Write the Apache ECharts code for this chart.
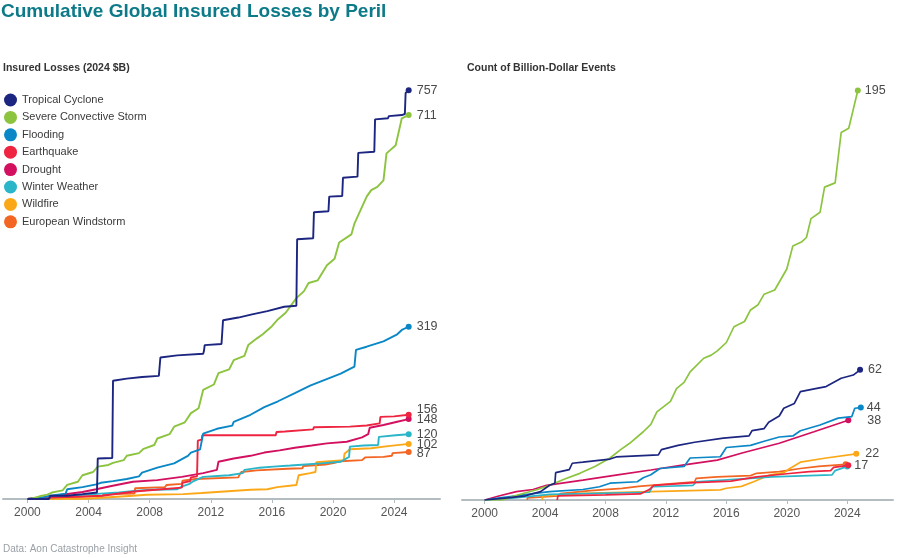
<!DOCTYPE html>
<html>
<head>
<meta charset="utf-8">
<script src="https://cdn.jsdelivr.net/npm/echarts@6/dist/echarts.min.js"></script>
<style>
html,body{margin:0;padding:0;background:#fff;}
#chart{width:900px;height:558px;}
</style>
</head>
<body>
<div id="chart"></div>
<script>
// ---------- DATA ----------
var perils = ["Tropical Cyclone","Severe Convective Storm","Flooding","Earthquake","Drought","Winter Weather","Wildfire","European Windstorm"];
var yearTicks = [2000,2004,2008,2012,2016,2020,2024];

// Cumulative insured losses (2024 $B): [year, value]
var lossTropicalCyclone = [[2000,0],[2001.4,0],[2001.5,6],[2002.6,6],[2002.7,8],[2003.6,9],[2003.7,11],[2004.55,12],[2004.6,75],[2005.55,76],[2005.6,219],[2006.5,223],[2007.5,226],[2008.6,228],[2008.7,262],[2009.8,266],[2011.5,269],[2011.55,274],[2011.6,285],[2012.7,287],[2012.8,331],[2013.8,336],[2014.7,342],[2015.7,348],[2016.8,356],[2017.6,358],[2017.65,481],[2018.7,483],[2018.75,531],[2019.7,533],[2019.75,560],[2020.6,561],[2020.65,595],[2021.6,597],[2021.65,641],[2022.7,643],[2022.75,703],[2023.6,705],[2023.65,709],[2024.5,711],[2024.7,713],[2024.75,752],[2024.95,757]];
var lossSevereConvective = [[2000,0],[2000.3,1],[2000.8,5],[2001.3,8],[2001.6,12],[2002.3,16],[2002.6,26],[2003.3,32],[2003.6,44],[2004.3,50],[2004.6,60],[2005.3,63],[2005.6,67],[2006.3,72],[2006.5,80],[2007.3,85],[2007.6,93],[2008.3,100],[2008.5,112],[2009.3,120],[2009.6,134],[2010.3,142],[2010.7,159],[2011.2,168],[2011.5,202],[2012.2,212],[2012.5,233],[2013.2,240],[2013.5,257],[2014.2,265],[2014.45,285],[2015.0,297],[2015.4,305],[2016.0,320],[2016.4,333],[2016.9,345],[2017.6,372],[2018.1,385],[2018.4,400],[2019.0,405],[2019.6,433],[2020.1,445],[2020.4,475],[2021.2,490],[2021.4,510],[2022.2,560],[2022.5,572],[2022.9,578],[2023.3,590],[2023.5,640],[2024.1,655],[2024.5,705],[2024.95,711]];
var lossFlooding = [[2000,0],[2001.0,3],[2001.5,6],[2002.5,10],[2002.6,18],[2003.6,22],[2004.5,27],[2004.8,30],[2005.6,33],[2006.5,37],[2007.3,42],[2007.5,49],[2008.5,58],[2009.6,66],[2010.5,80],[2010.7,86],[2011.3,92],[2011.5,121],[2012.4,130],[2013.4,136],[2013.5,143],[2014.6,156],[2015.5,170],[2016.4,181],[2017.5,196],[2018.5,210],[2019.5,221],[2020.5,232],[2021.4,245],[2021.5,276],[2022.2,282],[2023.3,292],[2024.2,305],[2024.5,313],[2024.95,319]];
var lossEarthquake = [[2000,0],[2001.1,2],[2003.0,4],[2004.9,6],[2007.0,14],[2008.4,17],[2010.1,21],[2010.15,30],[2010.65,33],[2010.7,40],[2011.1,42],[2011.15,108],[2011.4,110],[2011.45,118],[2016.25,118],[2016.3,124],[2016.85,125],[2016.9,128],[2018.7,129],[2018.75,133],[2021.1,134],[2022.2,136],[2022.25,139],[2023.05,140],[2023.1,152],[2024.0,153],[2024.05,155],[2024.95,156]];
var lossDrought = [[2000,0],[2001.0,3],[2002.0,7],[2003.6,13],[2004.5,18],[2005.5,24],[2006.9,32],[2008.5,35],[2010.1,41],[2011.5,48],[2012.4,54],[2012.5,69],[2013.5,75],[2014.6,80],[2015.5,86],[2016.5,90],[2017.5,95],[2018.6,99],[2019.6,103],[2020.9,106],[2021.9,114],[2022.3,120],[2022.4,132],[2023.3,137],[2024.2,143],[2024.95,148]];
var lossWinter = [[2000,0],[2001.2,2],[2002.0,4],[2003.3,7],[2004.8,10],[2006.0,12],[2007.0,15],[2008.1,17],[2009.8,18],[2010.1,23],[2010.6,28],[2010.8,32],[2011.1,36],[2011.5,41],[2013.2,44],[2014.1,48],[2014.2,54],[2015.2,58],[2016.1,60],[2017.2,62],[2018.2,64],[2019.2,66],[2020.5,69],[2021.05,78],[2021.1,97],[2022.0,99],[2022.95,100],[2023.0,115],[2024.1,118],[2024.95,120]];
var lossWildfire = [[2000,0],[2003.8,0.5],[2003.85,3],[2006.9,6],[2007.8,8],[2010.2,9],[2011.4,11],[2014.6,17],[2015.7,18],[2016.35,22],[2017.6,26],[2017.75,44],[2018.5,48],[2018.85,50],[2018.9,68],[2019.8,70],[2020.7,72],[2020.75,84],[2021.1,92],[2022.5,94],[2022.6,97],[2023.6,98],[2023.65,100],[2024.95,102]];
var lossEuroWindstorm = [[2000,0],[2001.0,1],[2002.0,3],[2003.5,4],[2004.9,6],[2005.05,9],[2007.0,10],[2007.05,20],[2009.0,22],[2009.1,26],[2010.1,28],[2010.15,34],[2011.0,37],[2013.8,40],[2013.9,46],[2014.0,50],[2015.0,53],[2017.0,56],[2018.0,57],[2018.05,61],[2019.5,64],[2020.1,67],[2020.5,70],[2021.9,72],[2022.1,77],[2023.3,78],[2023.85,80],[2023.9,85],[2024.95,87]];

// Cumulative count of billion-dollar events: [year, count]
var countTropicalCyclone = [[2000,0],[2001.5,1],[2002.7,2],[2003.7,4],[2004.3,7],[2004.65,8],[2004.7,13],[2005.6,14.5],[2005.8,17.5],[2006.5,18],[2008.3,19.5],[2008.7,20.5],[2011.5,21.5],[2011.7,24],[2012.8,26],[2013.9,27.5],[2015.8,29.5],[2017.5,30.5],[2017.7,33],[2018.5,34],[2018.8,37],[2019.5,40],[2019.8,43.7],[2020.5,46],[2020.9,51.6],[2021.9,53],[2022.6,54],[2023.6,58],[2024.4,59.5],[2024.85,62]];
var countSevereConvective = [[2000,0],[2001.2,0],[2002.0,2],[2003.5,5],[2004.3,7],[2005.3,10],[2006.3,12.7],[2007.3,16],[2008.3,20],[2009.0,24],[2009.6,27],[2010.5,32.5],[2011.0,36],[2011.4,42],[2012.3,47],[2012.7,53],[2013.2,56],[2013.6,61],[2014.5,67.5],[2015.0,69],[2015.4,71],[2016.0,75],[2016.5,82.5],[2017.2,85],[2017.6,90.5],[2018.1,93],[2018.5,98],[2019.2,100],[2019.6,105],[2020.0,110],[2020.4,121],[2021.0,123],[2021.3,125],[2021.6,134],[2022.2,137],[2022.5,149],[2023.2,151],[2023.6,175],[2024.1,177],[2024.4,186],[2024.7,195]];
var countFlooding = [[2000,0],[2001.0,1],[2002.1,2],[2003.2,3],[2004.3,4],[2006.5,5],[2007.6,6.3],[2008.3,8],[2010.1,8.7],[2010.5,10.6],[2011.0,12],[2011.6,15],[2013.2,16],[2013.6,20],[2015.6,20.6],[2016.0,25],[2017.6,26],[2018.5,28],[2019.5,30],[2020.4,30.5],[2020.9,33],[2022.2,35.7],[2023.4,39],[2024.3,39.7],[2024.5,43.7],[2024.9,44]];
var countEarthquake = [[2004.8,0],[2004.85,2],[2008.0,2.4],[2010.3,2.9],[2010.9,5],[2011.2,7],[2013.9,8.3],[2016.3,9],[2016.7,9.5],[2018.0,11],[2020.0,12.5],[2021.5,13.5],[2022.9,14],[2023.1,15.5],[2024.07,16.5]];
var countDrought = [[2000,0],[2001.0,2],[2002.1,4],[2003.2,5],[2004.1,7],[2006.5,9.5],[2008.8,12],[2011.0,14.3],[2013.2,16.7],[2015.4,19],[2017.1,22.5],[2019.5,27],[2021.8,32.5],[2024.07,38]];
var countWinter = [[2000,0],[2002.0,1],[2004.3,2.7],[2010.9,3.7],[2011.1,6.3],[2013.8,7],[2014.0,8.7],[2017.6,10.3],[2019.0,11],[2021.0,11.5],[2023.0,12],[2023.2,14],[2024.0,16]];
var countWildfire = [[2003.8,0],[2003.85,2],[2006.5,3.2],[2011.0,4],[2015.6,4.8],[2016.0,5.6],[2017.0,6.5],[2017.8,8.7],[2018.9,12],[2019.8,13],[2020.2,15],[2020.9,18],[2022.6,20],[2024.6,22]];
var countEuroWindstorm = [[2002.8,0],[2002.85,1],[2004.9,2],[2005.0,3],[2007.0,4.5],[2009.1,5.5],[2010.2,6.5],[2011.0,7],[2013.9,8.7],[2014.0,10.3],[2015.4,11],[2017.6,11.6],[2018.0,12.7],[2019.5,13.5],[2020.9,15],[2022.1,16],[2023.9,17]];

// End labels shown on each panel ("" = no label)
var lossEndLabels = ["757","711","319","156","148","120","102","87"];
var countEndLabels = ["62","195","44","17","38","","22",""];

// ---------- STYLE ----------
var colors = ["#1c2680","#8cc43f","#0a87c6","#ee2440","#d2105f","#2bb5c9","#fba818","#f26522"];
var lossLabelOffset = [[0,0],[0,0],[0,0],[0,-5],[0,0],[0,0],[0,1],[0,2]];
var countLabelStyle = [[8,0],[7,0],[6,0],[6,0],[19,0],[6,0],[9,0],[6,0]];

var lossData = [lossTropicalCyclone,lossSevereConvective,lossFlooding,lossEarthquake,lossDrought,lossWinter,lossWildfire,lossEuroWindstorm];
var countData = [countTropicalCyclone,countSevereConvective,countFlooding,countEarthquake,countDrought,countWinter,countWildfire,countEuroWindstorm];

var FONT = "'Liberation Sans', Arial, sans-serif";

function makeSeries(i, data, axisIdx, label, dist, offset, width) {
  var last = data.length - 1;
  return {
    name: perils[i],
    type: 'line',
    xAxisIndex: axisIdx, yAxisIndex: axisIdx,
    data: data,
    z: 10 - i,
    showSymbol: true, showAllSymbol: true,
    symbol: 'circle',
    symbolSize: function (v, p) { return p.dataIndex === last ? 6 : 0; },
    lineStyle: { color: colors[i], width: width },
    itemStyle: { color: colors[i] },
    emphasis: { disabled: true },
    endLabel: {
      show: label !== "",
      formatter: function () { return label; },
      color: '#4a4a4a', fontSize: 12.5, fontFamily: FONT,
      distance: dist, offset: offset
    }
  };
}

var series = [];
for (var i = 0; i < perils.length; i++) {
  series.push(makeSeries(i, lossData[i], 0, lossEndLabels[i], 8, lossLabelOffset[i], 1.9));
}
for (var j = 0; j < perils.length; j++) {
  series.push(makeSeries(j, countData[j], 1, countEndLabels[j], countLabelStyle[j][0], [0, countLabelStyle[j][1]], 1.7));
}

function xAxisCfg(idx, min, max) {
  return {
    type: 'value', gridIndex: idx, min: min, max: max,
    splitLine: { show: false },
    axisLine: { show: true, lineStyle: { color: '#b3bcc0', width: 2 } },
    axisTick: { show: true, customValues: yearTicks, length: 4, lineStyle: { color: '#b3bcc0', width: 1 } },
    axisLabel: { customValues: yearTicks, formatter: function (v) { return String(v); }, color: '#555', fontSize: 12, fontFamily: FONT, margin: 8 }
  };
}

var chart = echarts.init(document.getElementById('chart'), null, { renderer: 'canvas' });
chart.setOption({
  animation: false,
  backgroundColor: '#ffffff',
  title: [
    { text: 'Cumulative Global Insured Losses by Peril', left: 1, top: 2, padding: 0,
      textStyle: { color: '#0c7a88', fontSize: 19, fontWeight: 'bold', fontFamily: FONT } },
    { text: 'Insured Losses (2024 $B)', left: 3, top: 63, padding: 0,
      textStyle: { color: '#333', fontSize: 10.5, fontWeight: 'bold', fontFamily: FONT } },
    { text: 'Count of Billion-Dollar Events', left: 467, top: 63, padding: 0,
      textStyle: { color: '#333', fontSize: 10.5, fontWeight: 'bold', fontFamily: FONT } },
    { text: 'Data: Aon Catastrophe Insight', left: 3, top: 544, padding: 0,
      textStyle: { color: '#9aa0a6', fontSize: 10, fontWeight: 'normal', fontFamily: FONT } }
  ],
  legend: {
    data: perils, orient: 'vertical', left: 4, top: 93.5, padding: 0,
    icon: 'circle', itemWidth: 13, itemHeight: 13, itemGap: 4.4,
    textStyle: { color: '#3a3a3a', fontSize: 11, fontFamily: FONT, lineHeight: 13 },
    selectedMode: false
  },
  grid: [
    { left: 3, width: 437, top: 67, height: 432 },
    { left: 462, width: 431, top: 69.5, height: 430.5 }
  ],
  xAxis: [ xAxisCfg(0, 1998.4, 2027), xAxisCfg(1, 1998.5, 2027.03) ],
  yAxis: [
    { type: 'value', gridIndex: 0, min: 0, max: 800, show: false },
    { type: 'value', gridIndex: 1, min: 0, max: 205, show: false }
  ],
  series: series
});
</script>
</body>
</html>
